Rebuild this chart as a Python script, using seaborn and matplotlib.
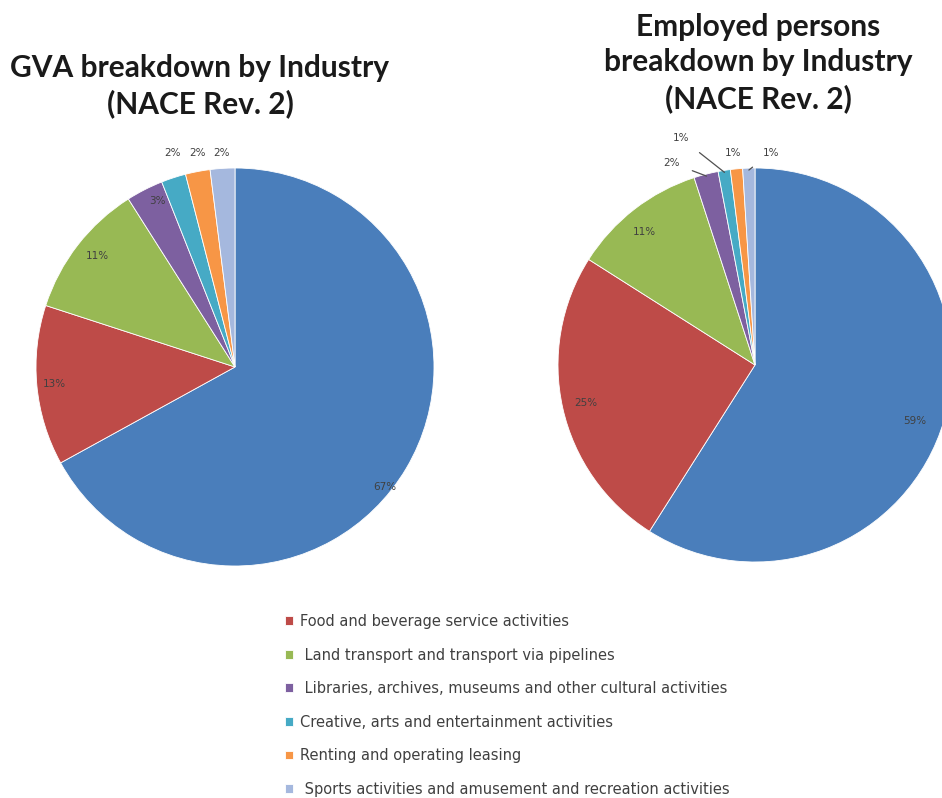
import matplotlib
matplotlib.use("Agg")
import matplotlib.pyplot as plt
import numpy as np
import seaborn as sns

# categories (blue slice is not listed in the reference legend)
industries = [
    "Accommodation",
    "Food and beverage service activities",
    " Land transport and transport via pipelines",
    " Libraries, archives, museums and other cultural activities",
    "Creative, arts and entertainment activities",
    "Renting and operating leasing",
    " Sports activities and amusement and recreation activities",
]
gva_share = [67, 13, 11, 3, 2, 2, 2]
employed_share = [59, 25, 11, 2, 1, 1, 1]
colors = ["#4A7EBB", "#BE4B48", "#98B954", "#7D60A0", "#46AAC5", "#F79646", "#A5B8DE"]

# label placement (radius as share of pie radius, angle nudge in degrees)
gva_label_r = [0.965, 0.91, 0.89, 0.92, 1.12, 1.09, 1.075]
gva_label_nudge = [-8, 0, -1, -2, -1.6, -0.8, 0]
emp_label_r = [0.86, 0.88, 0.88, 1.11, 1.21, 1.08, 1.08]
emp_label_nudge = [-3, 0, 2, 8, 9, 0.6, -6]
emp_leader = [False, False, False, True, True, False, True]

sns.set_style("white")
plt.rcParams["font.family"] = ["Lato", "DejaVu Sans"]

fig = plt.figure(figsize=(9.42, 7.98), dpi=100)
W, H = 942, 798


def draw_pie(ax, values, label_r, nudge, leader=None):
    wedges, _ = ax.pie(values, colors=colors, startangle=90, counterclock=False,
                       radius=1, wedgeprops=dict(edgecolor="white", linewidth=0.6))
    for i, (w, v) in enumerate(zip(wedges, values)):
        mid = np.deg2rad((w.theta1 + w.theta2) / 2)
        lab = mid + np.deg2rad(nudge[i])
        tx, ty = label_r[i] * np.cos(lab), label_r[i] * np.sin(lab)
        if leader is not None and leader[i]:
            ex, ey = np.cos(mid), np.sin(mid)
            ax.annotate(f"{v}%", xy=(0.99 * ex, 0.99 * ey), xytext=(tx, ty),
                        ha="center", va="center", fontsize=7.5, color="#404040",
                        family="DejaVu Sans",
                        arrowprops=dict(arrowstyle="-", color="#505050", lw=0.9,
                                        shrinkA=7, shrinkB=0))
        else:
            ax.text(tx, ty, f"{v}%", ha="center", va="center",
                    fontsize=7.5, color="#404040", family="DejaVu Sans")
    ax.set_xlim(-1, 1)
    ax.set_ylim(-1, 1)
    ax.set_aspect("equal")
    ax.axis("off")
    return wedges


ax1 = fig.add_axes([36 / W, (H - 566) / H, 398 / W, 398 / H])
ax2 = fig.add_axes([558 / W, (H - 562) / H, 394 / W, 394 / H])

wedges = draw_pie(ax1, gva_share, gva_label_r, gva_label_nudge)
draw_pie(ax2, employed_share, emp_label_r, emp_label_nudge, emp_leader)

fig.text(200 / W, 1 - 86 / H, "GVA breakdown by Industry\n(NACE Rev. 2)",
         ha="center", va="center", fontsize=21.5, fontweight="bold",
         color="#1a1a1a", linespacing=1.31)
fig.text(758 / W, 1 - 63 / H, "Employed persons\nbreakdown by Industry\n(NACE Rev. 2)",
         ha="center", va="center", fontsize=21.5, fontweight="bold",
         color="#1a1a1a", linespacing=1.31)

fig.legend(wedges[1:], industries[1:], loc="upper left",
           bbox_to_anchor=(285 / W, 1 - 614 / H), frameon=False,
           prop={"family": "DejaVu Sans", "size": 10.5},
           handlelength=0.55, handleheight=0.55,
           handletextpad=0.45, labelspacing=1.27, labelcolor="#404040",
           borderpad=0, borderaxespad=0)

fig.savefig("out.png", dpi=100)
